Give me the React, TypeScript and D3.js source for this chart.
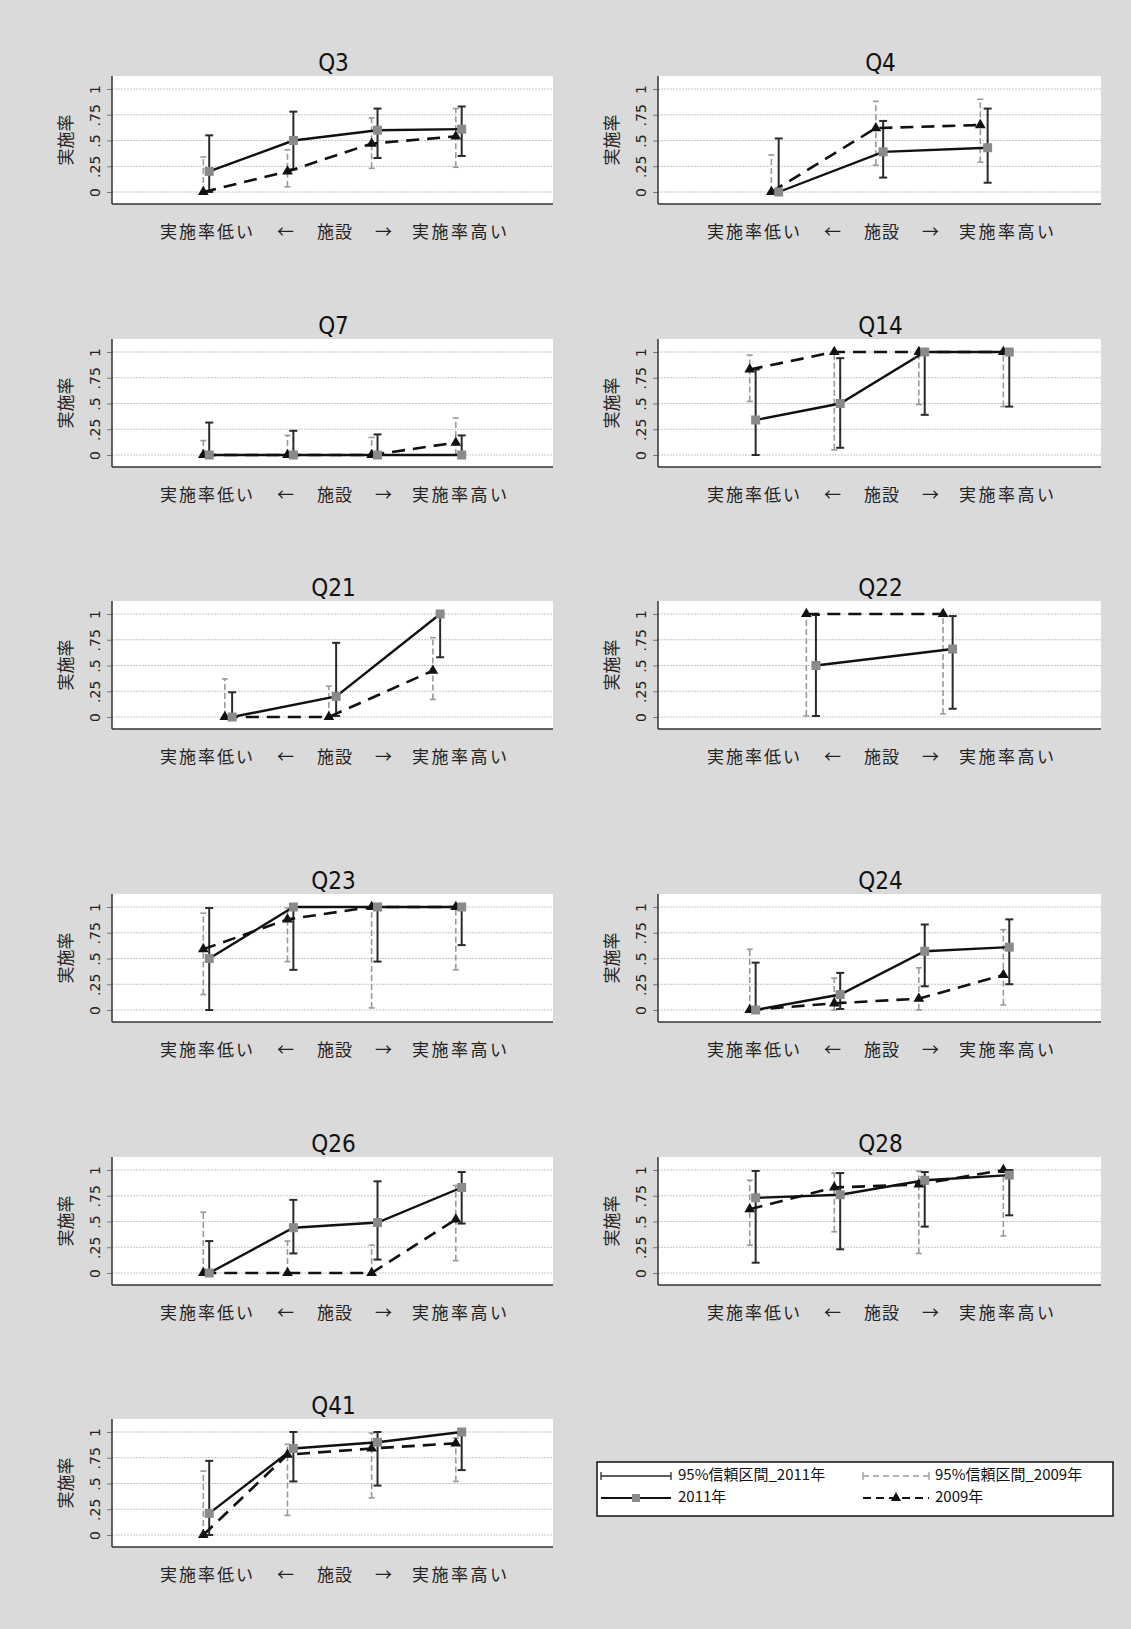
import React, { useEffect, useRef } from 'react'
import * as d3 from 'd3'

// panels, left to right then top to bottom
const panels = ['Q3', 'Q4', 'Q7', 'Q14', 'Q21', 'Q22', 'Q23', 'Q24', 'Q26', 'Q28', 'Q41']

// 2011 proportion + 95% CI
const mean2011 = [
  [0.2, 0.5, 0.6, 0.61],
  [0, 0.39, 0.43],
  [0, 0, 0, 0],
  [0.34, 0.5, 1, 1],
  [0, 0.2, 1],
  [0.5, 0.66],
  [0.5, 1, 1, 1],
  [0, 0.15, 0.57, 0.61],
  [0, 0.44, 0.49, 0.83],
  [0.73, 0.76, 0.9, 0.95],
  [0.21, 0.84, 0.9, 1],
]
const lo2011 = [
  [0, 0.22, 0.33, 0.35],
  [0, 0.14, 0.09],
  [0, 0, 0, 0],
  [0, 0.07, 0.39, 0.47],
  [0, 0.01, 0.58],
  [0.01, 0.08],
  [0, 0.39, 0.47, 0.63],
  [0, 0.01, 0.23, 0.25],
  [0, 0.19, 0.13, 0.48],
  [0.1, 0.23, 0.45, 0.56],
  [0, 0.52, 0.48, 0.63],
]
const hi2011 = [
  [0.55, 0.78, 0.81, 0.83],
  [0.52, 0.69, 0.81],
  [0.315, 0.235, 0.2, 0.19],
  [0.83, 0.94, 1, 1],
  [0.24, 0.72, 1],
  [0.99, 0.98],
  [0.99, 1, 1, 1],
  [0.46, 0.36, 0.83, 0.88],
  [0.31, 0.71, 0.89, 0.98],
  [0.99, 0.97, 0.98, 1],
  [0.72, 1, 1, 1],
]

// 2009 proportion + 95% CI
const mean2009 = [
  [0, 0.2, 0.47, 0.54],
  [0, 0.62, 0.65],
  [0, 0, 0, 0.12],
  [0.83, 1, 1, 1],
  [0, 0, 0.45],
  [1, 1],
  [0.59, 0.88, 1, 1],
  [0, 0.065, 0.11, 0.34],
  [0, 0, 0, 0.52],
  [0.62, 0.83, 0.86, 1],
  [0, 0.78, 0.84, 0.89],
]
const lo2009 = [
  [0, 0.05, 0.23, 0.24],
  [0, 0.26, 0.29],
  [0, 0, 0, 0],
  [0.52, 0.05, 0.49, 0.47],
  [0, 0, 0.17],
  [0.01, 0.03],
  [0.15, 0.47, 0.02, 0.39],
  [0, 0, 0, 0.05],
  [0, 0, 0, 0.12],
  [0.27, 0.4, 0.19, 0.36],
  [0, 0.19, 0.36, 0.52],
]
const hi2009 = [
  [0.34, 0.41, 0.72, 0.81],
  [0.36, 0.88, 0.9],
  [0.14, 0.19, 0.17, 0.36],
  [0.97, 1, 1, 1],
  [0.37, 0.3, 0.77],
  [1, 1],
  [0.94, 0.99, 1, 1],
  [0.59, 0.31, 0.41, 0.78],
  [0.59, 0.31, 0.27, 0.85],
  [0.9, 0.97, 0.99, 1],
  [0.62, 0.88, 0.99, 0.94],
]

const yTicks = [0, 0.25, 0.5, 0.75, 1]
const yTickLabels = ['0', '.25', '.5', '.75', '1']
const yTitle = '実施率'
const xLabelParts = ['実施率低い', '←', '施設', '→', '実施率高い']
const legendLabels = ['95%信頼区間_2011年', '95%信頼区間_2009年', '2011年', '2009年']

const W = 1131
const H = 1629
const rowY = [62, 325, 587, 880, 1143, 1405]
const plotLeft = [112, 658]
const plotRight = [553, 1101]
const JP = "'Noto Sans CJK JP', sans-serif"
const NARROW = "'Liberation Sans Narrow', 'DejaVu Sans Condensed', 'Liberation Sans', sans-serif"

function drawChart(node: HTMLDivElement) {
  d3.select(node).selectAll('*').remove()
  const svg = d3.select(node)
    .append('svg')
    .attr('width', W)
    .attr('height', H)
    .style('display', 'block')

  svg.append('rect').attr('width', W).attr('height', H).attr('fill', '#dadada')

  panels.forEach((name, i) => {
    const row = Math.floor(i / 2)
    const col = i % 2
    const ty = rowY[row]
    const left = plotLeft[col]
    const right = plotRight[col]
    const n = mean2011[i].length
    const x = d3.scaleLinear().domain([-0.12, n + 1.12]).range([left, right])
    const y = d3.scaleLinear().domain([0, 1]).range([ty + 130, ty + 27])
    const cx = (left + right) / 2
    const g = svg.append('g')

    g.append('text')
      .attr('x', cx + 1)
      .attr('y', ty + 9)
      .attr('text-anchor', 'middle')
      .attr('font-family', NARROW)
      .attr('font-size', 24)
      .attr('fill', '#111')
      .text(name)

    g.append('rect')
      .attr('x', left).attr('y', ty + 14)
      .attr('width', right - left).attr('height', 128)
      .attr('fill', '#fff')

    g.selectAll('.grid').data(yTicks).enter()
      .append('line')
      .attr('x1', left).attr('x2', right)
      .attr('y1', d => y(d)).attr('y2', d => y(d))
      .attr('stroke', '#c4c4c4').attr('stroke-width', 1)
      .attr('stroke-dasharray', '2,1')

    const axis = g.append('g')
      .attr('transform', `translate(${left},0)`)
      .call(d3.axisLeft(y).tickValues(yTicks).tickSize(5).tickSizeOuter(0)
        .tickFormat((d, k) => yTickLabels[k]))
    axis.select('.domain').remove()
    axis.selectAll('line').attr('stroke', '#777')
    axis.selectAll('text')
      .attr('x', 0).attr('y', 0).attr('dy', 0)
      .attr('transform', 'translate(-12,0) rotate(-90)')
      .attr('text-anchor', 'middle')
      .attr('font-family', 'DejaVu Sans')
      .attr('font-size', 14)
      .attr('fill', '#222')

    g.append('line')
      .attr('x1', left).attr('x2', left)
      .attr('y1', ty + 14).attr('y2', ty + 142)
      .attr('stroke', '#333').attr('stroke-width', 1.5)
    g.append('line')
      .attr('x1', left).attr('x2', right)
      .attr('y1', ty + 142).attr('y2', ty + 142)
      .attr('stroke', '#333').attr('stroke-width', 1.5)

    g.append('text')
      .attr('transform', `translate(${left - 40},${ty + 78}) rotate(-90)`)
      .attr('text-anchor', 'middle')
      .attr('font-family', JP)
      .attr('font-size', 17)
      .attr('fill', '#222')
      .text(yTitle)

    const partDx = [-127, -48, 1, 50, 126]
    const partLen = [93, 0, 35, 0, 95]
    xLabelParts.forEach((p, k) => {
      const t = g.append('text')
        .attr('x', cx + 1 + partDx[k])
        .attr('y', ty + 171)
        .attr('dominant-baseline', 'middle')
        .attr('text-anchor', 'middle')
        .attr('font-family', JP)
        .attr('font-size', 17)
        .attr('fill', '#222')
        .text(p)
      if (partLen[k]) t.attr('textLength', partLen[k]).attr('lengthAdjust', 'spacing')
    })

    // 2009 CI (gray dashed)
    const off09 = -0.035
    const off11 = 0.035
    mean2009[i].forEach((m, j) => {
      const xx = x(j + 1 + off09)
      g.append('line')
        .attr('x1', xx).attr('x2', xx)
        .attr('y1', y(lo2009[i][j])).attr('y2', y(hi2009[i][j]))
        .attr('stroke', '#9a9a9a').attr('stroke-width', 1.6)
        .attr('stroke-dasharray', '6,3')
      ;[lo2009[i][j], hi2009[i][j]].forEach(v => {
        g.append('line')
          .attr('x1', xx - 3).attr('x2', xx + 3)
          .attr('y1', y(v)).attr('y2', y(v))
          .attr('stroke', '#9a9a9a').attr('stroke-width', 1.6)
      })
    })
    // 2011 CI (dark solid)
    mean2011[i].forEach((m, j) => {
      const xx = x(j + 1 + off11)
      g.append('line')
        .attr('x1', xx).attr('x2', xx)
        .attr('y1', y(lo2011[i][j])).attr('y2', y(hi2011[i][j]))
        .attr('stroke', '#2a2a2a').attr('stroke-width', 2)
      ;[lo2011[i][j], hi2011[i][j]].forEach(v => {
        g.append('line')
          .attr('x1', xx - 4).attr('x2', xx + 4)
          .attr('y1', y(v)).attr('y2', y(v))
          .attr('stroke', '#2a2a2a').attr('stroke-width', 2)
      })
    })

    const line09 = d3.line<number>().x((d, j) => x(j + 1 + off09)).y(d => y(d))
    const line11 = d3.line<number>().x((d, j) => x(j + 1 + off11)).y(d => y(d))

    g.append('path')
      .attr('d', line09(mean2009[i]))
      .attr('fill', 'none').attr('stroke', '#111').attr('stroke-width', 2.6)
      .attr('stroke-dasharray', '13,8')
    g.append('path')
      .attr('d', line11(mean2011[i]))
      .attr('fill', 'none').attr('stroke', '#111').attr('stroke-width', 2.4)

    g.selectAll('.tri').data(mean2009[i]).enter()
      .append('path')
      .attr('d', d3.symbol(d3.symbolTriangle, 50))
      .attr('transform', (d, j) => `translate(${x(j + 1 + off09)},${y(d)})`)
      .attr('fill', '#111')
    g.selectAll('.sq').data(mean2011[i]).enter()
      .append('rect')
      .attr('x', (d, j) => x(j + 1 + off11) - 4.5)
      .attr('y', d => y(d) - 4.5)
      .attr('width', 9).attr('height', 9)
      .attr('fill', '#8a8a8a')
  })

  // legend
  const lg = svg.append('g')
  lg.append('rect')
    .attr('x', 597).attr('y', 1462).attr('width', 516).attr('height', 54)
    .attr('fill', '#fff').attr('stroke', '#111').attr('stroke-width', 1.5)

  const r1 = 1476
  const r2 = 1498
  lg.append('line').attr('x1', 601).attr('x2', 671).attr('y1', r1).attr('y2', r1)
    .attr('stroke', '#2a2a2a').attr('stroke-width', 1.3)
  ;[601, 671].forEach(v => lg.append('line').attr('x1', v).attr('x2', v)
    .attr('y1', r1 - 4).attr('y2', r1 + 4).attr('stroke', '#2a2a2a').attr('stroke-width', 1.3))
  lg.append('line').attr('x1', 863).attr('x2', 929).attr('y1', r1).attr('y2', r1)
    .attr('stroke', '#9a9a9a').attr('stroke-width', 1.3).attr('stroke-dasharray', '6,4')
  ;[863, 929].forEach(v => lg.append('line').attr('x1', v).attr('x2', v)
    .attr('y1', r1 - 4).attr('y2', r1 + 4).attr('stroke', '#9a9a9a').attr('stroke-width', 1.3))

  lg.append('line').attr('x1', 601).attr('x2', 671).attr('y1', r2).attr('y2', r2)
    .attr('stroke', '#111').attr('stroke-width', 2)
  lg.append('rect').attr('x', 632).attr('y', r2 - 4).attr('width', 8).attr('height', 8)
    .attr('fill', '#8a8a8a')
  lg.append('line').attr('x1', 863).attr('x2', 929).attr('y1', r2).attr('y2', r2)
    .attr('stroke', '#111').attr('stroke-width', 2).attr('stroke-dasharray', '8,5')
  lg.append('path').attr('d', d3.symbol(d3.symbolTriangle, 45))
    .attr('transform', `translate(896,${r2})`).attr('fill', '#111')

  const lx = [678, 935, 678, 935]
  const ly = [r1, r1, r2, r2]
  legendLabels.forEach((t, k) => {
    lg.append('text')
      .attr('x', lx[k]).attr('y', ly[k])
      .attr('dominant-baseline', 'middle')
      .attr('font-family', JP)
      .attr('font-size', 15)
      .attr('fill', '#111')
      .text(t)
  })
}

export default function App() {
  const ref = useRef<HTMLDivElement>(null)
  useEffect(() => {
    document.body.style.margin = '0'
    if (ref.current) drawChart(ref.current)
  }, [])
  return <div ref={ref}></div>
}
